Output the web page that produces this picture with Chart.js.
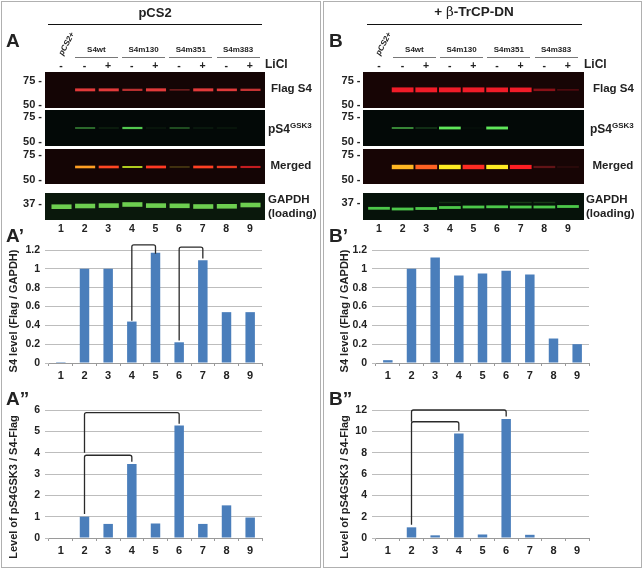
<!DOCTYPE html>
<html>
<head>
<meta charset="utf-8">
<title>S4 blots</title>
<script src="https://cdn.jsdelivr.net/npm/chart.js@4"></script>
<style>
  html, body { margin:0; padding:0; background:#fff; }
  #page { position:relative; width:643px; height:569px; overflow:hidden; font-family:"Liberation Sans",Arial,sans-serif; color:#222; filter:blur(0.35px); }
  #page canvas { position:absolute; }
  .t { position:absolute; white-space:nowrap; font-weight:bold; line-height:1; }
  .frame { position:absolute; border:1px solid #b0b0b0; box-sizing:border-box; }
  .rule { position:absolute; }
</style>
</head>
<body>
<div id="page"></div>
<script>
// ── DATA ─────────────────────────────
const lanes = ['1','2','3','4','5','6','7','8','9'];
const licl  = ['-','-','+','-','+','-','+','-','+'];
const groups = ['S4wt','S4m130','S4m351','S4m383'];

// quantified bars
const flagLevelA = [0.01,1,1,0.44,1.17,0.22,1.09,0.54,0.54];
const phosLevelA = [0,1,0.66,3.47,0.68,5.27,0.66,1.53,0.96];
const flagLevelB = [0.03,1,1.12,0.93,0.95,0.98,0.94,0.26,0.2];
const phosLevelB = [0,1,0.25,9.8,0.33,11.15,0.3,0,0];

// significance brackets: lane to lane, value at each foot, value of the top
const bracketsFlagA = [['4','5',0.45,1.16,1.255],['6','7',0.24,1.11,1.23]];
const bracketsPhosA = [['2','6',4,5.35,5.88],['2','4',1.13,3.58,3.88]];
const bracketsPhosB = [['2','6',10.9,11.4,12.0],['2','4',1.25,10.05,10.9]];

// blot band intensities (0-1) per lane
const flagBandA = [0,0.85,0.85,0.55,0.9,0.25,0.88,0.72,0.6];
const phosBandA = [0,0.38,0.12,0.62,0.08,0.3,0.1,0.08,0];
const flagBandB = [0,1,1,1,1,0.95,0.92,0.3,0.06];
const phosBandB = [0,0.45,0.2,0.88,0.04,0.92,0,0,0];

// GAPDH band position per lane, kDa
const gapdhKdaA = [33.3,34,34.4,35.5,34.4,34.2,33.5,33.7,35];
const gapdhKdaB = [31.7,31,31.5,32.5,33,33.2,33,33,33.5];
const gapdhUpperB = [0,0,0,0.16,0,0,0.22,0.22,0];

const page = document.getElementById('page');

// ── HELPERS ──────────────────────────
function text(str, x, y, size, align='c', extra='') {
  const el = document.createElement('div');
  el.className = 't';
  el.innerHTML = str;
  const tx = align === 'c' ? '-50%' : align === 'r' ? '-100%' : '0';
  el.style.cssText = `left:${x}px;top:${y}px;font-size:${size}px;transform:translate(${tx},-50%) ${extra}`;
  page.appendChild(el);
}
function rule(x1, x2, y, color, h=1) {
  const el = document.createElement('div');
  el.className = 'rule';
  el.style.cssText = `left:${x1}px;top:${y}px;width:${x2-x1}px;height:${h}px;background:${color}`;
  page.appendChild(el);
}
function canvasAt(x, y, w, h, bg) {
  const c = document.createElement('canvas');
  c.width = w; c.height = h;
  c.style.left = x + 'px'; c.style.top = y + 'px';
  if (bg) c.style.background = bg;
  page.appendChild(c);
  return c;
}

const softBands = {
  id:'softBands',
  beforeDatasetsDraw(ch) { ch.ctx.save(); ch.ctx.filter = 'blur(0.6px)'; },
  afterDatasetsDraw(ch) { ch.ctx.restore(); }
};

// a blot is a floating bar chart on a dark canvas, y axis in kDa
function blot(x, y, w, h, lane0, yMin, yMax, bg, sets, bandW) {
  const c = canvasAt(x, y, w, h, bg);
  new Chart(c, {
    type:'bar',
    data:{ labels:lanes, datasets:sets.map(s => ({
      data:s.data, backgroundColor:s.colors, grouped:false,
      barPercentage:bandW, categoryPercentage:1, borderWidth:0, borderSkipped:false
    })) },
    options:{
      responsive:false, animation:false,
      layout:{ padding:{ left:lane0 - 11.8 - x, right:x + w - (lane0 - 11.8 + 212.6), top:0, bottom:0 } },
      plugins:{ legend:{display:false}, tooltip:{enabled:false} },
      scales:{ x:{display:false}, y:{display:false, min:yMin, max:yMax} }
    },
    plugins:[softBands]
  });
}

const bandRange = (v, kda, thick) => { const half = (0.5 + 1.2*v) * thick; return v > 0 ? [kda - half, kda + half] : null; };
const redBands = (vals, kda, thick, tint) => ({
  data:vals.map(v => bandRange(v, kda, thick)),
  colors:vals.map(v => `rgba(${tint},${Math.min(1, 0.2 + v*1.1)})`)
});
const greenBands = (vals, kda) => ({
  data:vals.map(v => v > 0 ? [kda - 0.4 - 1.2*v, kda + 0.4 + 1.2*v] : null),
  colors:vals.map(v => `rgba(95,230,90,${Math.min(1, v*1.4)})`)
});
const mergedBands = (red, green, kda, thick) => ({
  data:red.map(v => bandRange(v, kda, thick * 0.9)),
  colors:red.map((v,i) => {
    const r = Math.round(255 * Math.min(1, 0.4 + v*0.7));
    const g = Math.round(Math.min(235, 30 + green[i]*340));
    return `rgba(${r},${g},35,${Math.min(1, 0.2 + v*1.2)})`;
  })
});

// quantification bar chart, chart area placed through fixed axis sizes
function levels(x0, top, bottom, values, yMax, step, brackets) {
  const left = x0 - 49, canvasTop = top - 14, w = 270, h = bottom + 22 - canvasTop;
  const c = canvasAt(left, canvasTop, w, h);
  new Chart(c, {
    type:'bar',
    data:{ labels:lanes, datasets:[{ data:values, backgroundColor:'#4a7ebb', barPercentage:0.4, categoryPercentage:1 }] },
    options:{
      responsive:false, animation:false,
      layout:{ padding:{ top:14, right:w - 49 - 213, left:0, bottom:0 } },
      plugins:{ legend:{display:false}, tooltip:{enabled:false} },
      scales:{
        x:{
          afterFit:s => { s.height = 22; },
          grid:{ offset:true, drawOnChartArea:false, color:'#9a9a9a', tickLength:3 },
          border:{ color:'#9a9a9a' },
          ticks:{ color:'#222', font:{ size:11, weight:'bold', family:'Liberation Sans' }, padding:3, maxRotation:0 }
        },
        y:{
          min:0, max:yMax,
          afterFit:s => { s.width = 49; },
          grid:{ color:'#bdbdbd', tickLength:4 },
          border:{ display:false },
          ticks:{ stepSize:step, color:'#222', font:{ size:10.5, weight:'bold', family:'Liberation Sans' }, padding:5,
                  callback:v => String(Number(v.toFixed(1))) }
        }
      }
    },
    plugins:[{
      id:'brackets',
      afterDatasetsDraw(ch) {
        const { ctx, scales:{ x:sx, y:sy } } = ch;
        ctx.save();
        ctx.strokeStyle = '#2a2a2a'; ctx.lineWidth = 1.3;
        brackets.forEach(([a, b, footA, footB, topV]) => {
          const xa = sx.getPixelForValue(lanes.indexOf(a)), xb = sx.getPixelForValue(lanes.indexOf(b));
          const yt = sy.getPixelForValue(topV);
          ctx.beginPath();
          ctx.moveTo(xa, sy.getPixelForValue(footA));
          ctx.lineTo(xa, yt + 2);
          ctx.quadraticCurveTo(xa, yt, xa + 2, yt);
          ctx.lineTo(xb - 2, yt);
          ctx.quadraticCurveTo(xb, yt, xb, yt + 2);
          ctx.lineTo(xb, sy.getPixelForValue(footB));
          ctx.stroke();
        });
        ctx.restore();
      }
    }]
  });
}

// ── ONE SIDE OF THE FIGURE ───────────
function side(o) {
  rule(o.ruleL, o.ruleR, 24, '#111');
  text(o.title, o.titleX, 11.5, o.titleSize);
  text(o.letter, o.letterX, 40, 19, 'l');

  text('pCS2+', 67 + o.laneShift, 44, 8, 'c', 'rotate(-62deg) skewX(-8deg)');
  groups.forEach((g, i) => {
    const l = o.lane0 + 23.6 * (2*i + 1.5);
    text(g, l, 49.5, 8);
    rule(l - 21.5, l + 21.5, 56.5, '#777');
  });
  lanes.forEach((n, i) => {
    const l = o.lane0 + 23.6 * i;
    text(licl[i], l, 64.5, 10.5);
    text(n, l, 227.5, 10.5);
  });
  text('LiCl', o.liclX, 64, 12, 'l');

  const px = o.blotX, pw = o.blotW;
  blot(px, 72, pw, 36, o.lane0, 45.8, 83.3, o.bgRed, [redBands(o.flag, 64.7, o.thick, o.tint)], o.bandW);
  blot(px, 110, pw, 36, o.lane0, 43.75, 81.25, '#030907', [greenBands(o.phos, 62.5)], o.bandW);
  blot(px, 149, pw, 35, o.lane0, 43.8, 80.2, o.bgRed, [mergedBands(o.flag, o.phos, 61.5, o.thick)], o.bandW);
  const gapdh = [{ data:o.gapdh.map(k => [k - o.gapdhHalf, k + o.gapdhHalf]), colors:o.gapdh.map(() => o.gapdhColor) }];
  if (o.gapdhUpper) gapdh.push({
    data:o.gapdhUpper.map(v => v > 0 ? [36.8, 38.2] : null),
    colors:o.gapdhUpper.map(v => `rgba(90,200,70,${v})`)
  });
  blot(px, 193, pw, 27, o.lane0, 20, 47, o.bgGreen, gapdh, o.bandW);

  [[80,'75'],[104,'50'],[116,'75'],[141,'50'],[154,'75'],[178.5,'50'],[o.k37,'37']].forEach(([y, s]) => {
    text(s + ' -', px - 2.5, y, 11, 'r');
  });

  text('Flag S4', o.lab1, 89, 11.5, 'l');
  text('pS4<sup style="font-size:8px;vertical-align:5px;line-height:0">GSK3</sup>', o.lab2, 129, 12, 'l');
  text('Merged', o.lab1 - 0.5, 166, 11.5, 'l');
  text('GAPDH', o.lab3, 199.5, 11.5, 'l');
  text('(loading)', o.lab3, 213.5, 11.5, 'l');

  text(o.letter + '’', o.letterX, 234.5, 19, 'l');
  text(o.letter + '”', o.letterX, 398, 19, 'l');

  levels(o.axisX, 250.3, 363.3, o.flagLevels, 1.2, 0.2, o.bracketsFlag);
  levels(o.axisX, 409.8, 538.4, o.phosLevels, o.phosMax, o.phosStep, o.bracketsPhos);
  text('S4 level (Flag / GAPDH)', o.axisTitleX, 311, 11, 'c', 'rotate(-90deg)');
  text('Level of pS4GSK3 / S4-Flag', o.axisTitleX, 486.5, 11, 'c', 'rotate(-90deg)');
}

[[1,1,320,567],[323,1,319,567]].forEach(([x,y,w,h]) => {
  const f = document.createElement('div');
  f.className = 'frame';
  f.style.cssText = `left:${x}px;top:${y}px;width:${w}px;height:${h}px`;
  page.appendChild(f);
});

Chart.defaults.font.family = 'Liberation Sans';

side({ letter:'A', letterX:6, title:'pCS2', titleX:155, titleSize:13, ruleL:48, ruleR:262,
  lane0:61, laneShift:0, blotX:44.5, blotW:220, liclX:265, k37:203,
  bgRed:'#140505', bgGreen:'#0a180c', tint:'226,58,58', thick:1, bandW:0.85, gapdhColor:'#6dce50',
  lab1:271, lab2:268, lab3:268, axisX:49, axisTitleX:13,
  flag:flagBandA, phos:phosBandA, gapdh:gapdhKdaA, gapdhHalf:2.3,
  flagLevels:flagLevelA, phosLevels:phosLevelA, phosMax:6, phosStep:1,
  bracketsFlag:bracketsFlagA, bracketsPhos:bracketsPhosA });

side({ letter:'B', letterX:329, title:'+ <span style="font-family:\'DejaVu Serif\';font-weight:normal">β</span>-TrCP-DN', titleX:474, titleSize:13.5, ruleL:367, ruleR:582,
  lane0:379, laneShift:317, blotX:363, blotW:221, liclX:584, k37:202,
  bgRed:'#170505', bgGreen:'#06120a', tint:'240,28,40', thick:1.5, bandW:0.92, gapdhColor:'#4cc84a',
  lab1:593, lab2:590, lab3:586, axisX:376, axisTitleX:344,
  flag:flagBandB, phos:phosBandB, gapdh:gapdhKdaB, gapdhHalf:1.4, gapdhUpper:gapdhUpperB,
  flagLevels:flagLevelB, phosLevels:phosLevelB, phosMax:12, phosStep:2,
  bracketsFlag:[], bracketsPhos:bracketsPhosB });
</script>
</body>
</html>
